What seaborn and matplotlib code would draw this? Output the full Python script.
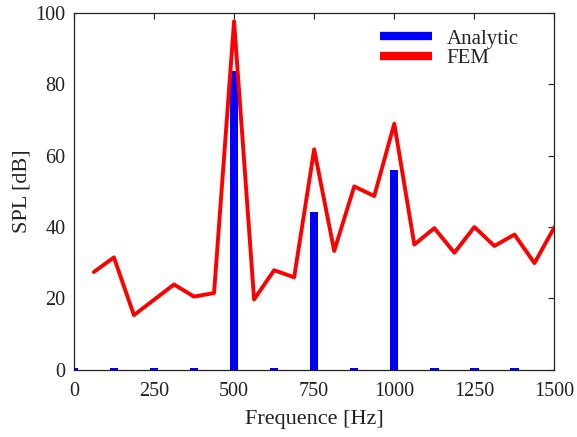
import matplotlib
matplotlib.use("Agg")
import matplotlib.pyplot as plt
from matplotlib.lines import Line2D
import seaborn as sns
import pandas as pd

analytic_freq = [0, 125, 250, 375, 500, 625, 750, 875, 1000, 1125, 1250, 1375]
analytic_spl = [0.45, 0.45, 0.45, 0.45, 83.7, 0.45, 44.3, 0.45, 56.1, 0.45, 0.45, 0.45]

fem_freq = [62.5, 125, 187.5, 250, 312.5, 375, 437.5, 500, 562.5, 625, 687.5,
            750, 812.5, 875, 937.5, 1000, 1062.5, 1125, 1187.5, 1250, 1312.5,
            1375, 1437.5, 1500]
fem_spl = [27.4, 31.5, 15.3, 19.6, 23.9, 20.5, 21.5, 97.7, 19.7, 27.9, 25.9,
           61.8, 33.3, 51.4, 48.7, 69.0, 35.1, 39.7, 32.8, 40.0, 34.7,
           37.9, 29.9, 40.0]

xticks = [0, 250, 500, 750, 1000, 1250, 1500]
yticks = [0, 20, 40, 60, 80, 100]

sns.set_style("white")
plt.rcParams['font.family'] = ['Liberation Serif', 'DejaVu Serif']

fig = plt.figure(figsize=(5.77, 4.37), dpi=100)
ax = fig.add_axes([0.128, 0.154, 0.833, 0.816])

df_a = pd.DataFrame({"f": analytic_freq, "spl": analytic_spl})
df_f = pd.DataFrame({"f": fem_freq, "spl": fem_spl})

sns.barplot(data=df_a, x="f", y="spl", native_scale=True, width=0.21,
            color="#0000ff", saturation=1, ax=ax, errorbar=None, zorder=2,
            linewidth=0)
sns.lineplot(data=df_f, x="f", y="spl", color="#ff0000", linewidth=2.8,
             ax=ax, zorder=3)

ax.set_xlim(0, 1500)
ax.set_ylim(0, 100)
ax.set_xticks(xticks)
ax.set_yticks(yticks)
ax.set_xticklabels([str(v) for v in xticks])
ax.set_yticklabels([str(v) for v in yticks])
ax.tick_params(direction="in", top=True, right=True, length=4, width=0.8,
               labelsize=14.5, colors="#222222", pad=6)
ax.tick_params(axis="x", pad=9)
for s in ax.spines.values():
    s.set_color("#222222")
    s.set_linewidth(0.9)
ax.set_xlabel("Frequence [Hz]", fontsize=16, color="#222222", labelpad=6)
ax.set_ylabel("SPL [dB]", fontsize=16, color="#222222", labelpad=3)

handles = [Line2D([0], [0], color="#0000ff", lw=6, solid_capstyle="butt"),
           Line2D([0], [0], color="#ff0000", lw=6, solid_capstyle="butt")]
ax.legend(handles, ["Analytic", "FEM"], loc="upper left",
          bbox_to_anchor=(0.61, 0.99), frameon=False, fontsize=15,
          handlelength=2.5, handletextpad=0.72, labelspacing=0.0,
          borderaxespad=0.2)

fig.savefig("out.png", dpi=100)
